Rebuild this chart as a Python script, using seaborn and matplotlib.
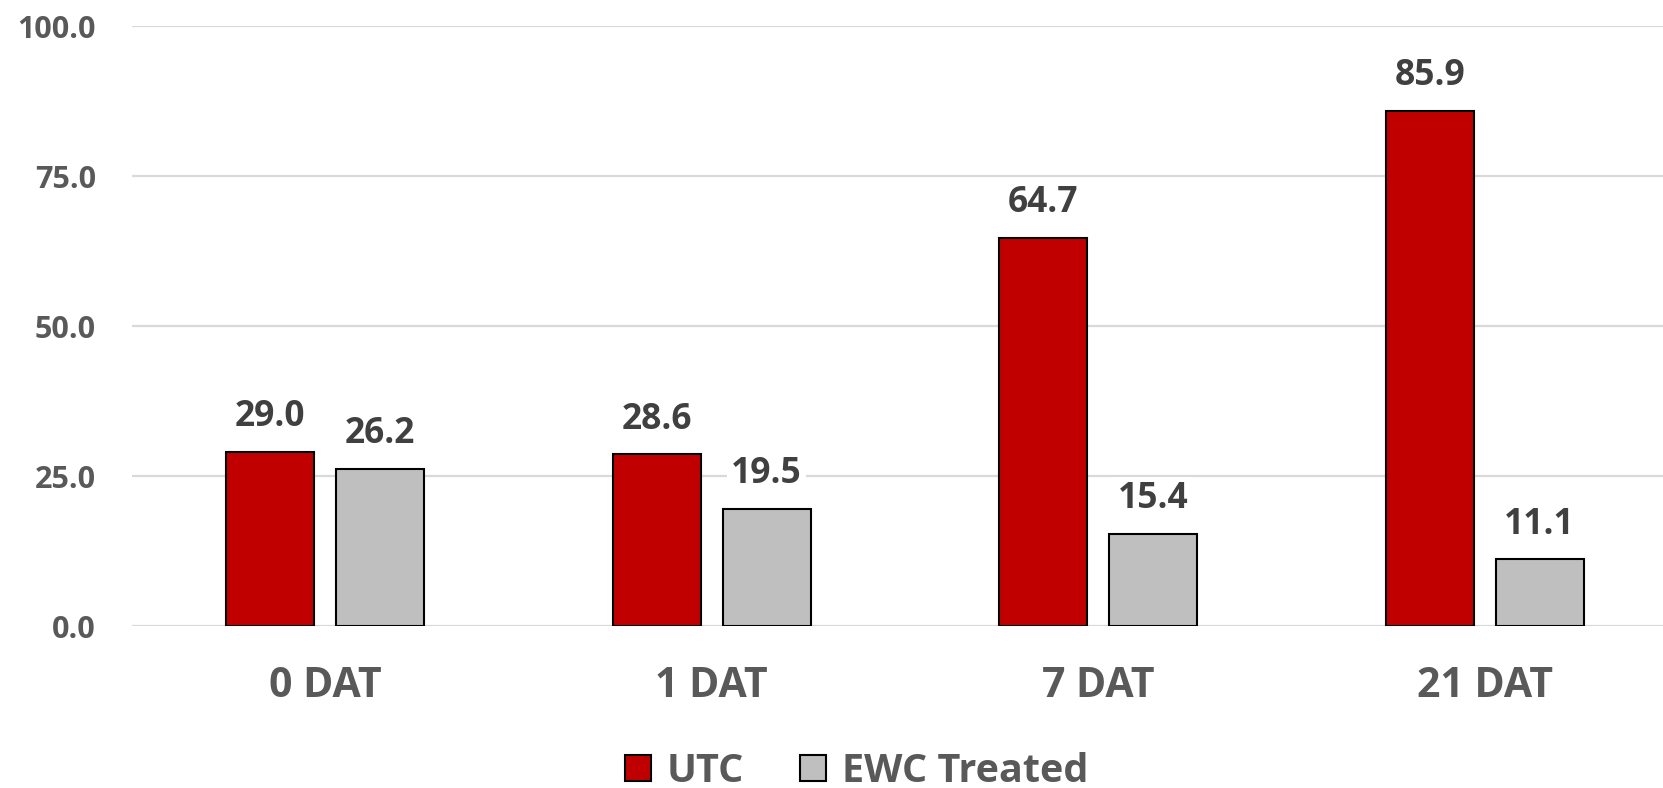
import matplotlib
matplotlib.use("Agg")
import matplotlib.pyplot as plt
import seaborn as sns
import pandas as pd
from matplotlib.patches import Patch

categories = ["0 DAT", "1 DAT", "7 DAT", "21 DAT"]
series_names = ["UTC", "EWC Treated"]
utc_values = [29.0, 28.6, 64.7, 85.9]
ewc_values = [26.2, 19.5, 15.4, 11.1]
y_ticks = [0, 25, 50, 75, 100]

colors = {"UTC": "#C00000", "EWC Treated": "#BFBFBF"}

df = pd.DataFrame({
    "period": categories * 2,
    "series": [series_names[0]] * len(categories) + [series_names[1]] * len(categories),
    "value": utc_values + ewc_values,
})

sns.set_theme(style="white")
plt.rcParams["font.family"] = ["Open Sans", "DejaVu Sans"]
plt.rcParams["font.weight"] = "bold"

W, H = 1663, 788
fig = plt.figure(figsize=(W / 100, H / 100), dpi=100)
left, bottom, top = 132 / W, 162 / H, (H - 26) / H
ax = fig.add_axes([left, bottom, 1 - left, top - bottom])

sns.barplot(data=df, x="period", y="value", hue="series", order=categories,
            hue_order=series_names, palette=colors, saturation=1,
            width=0.569, gap=0.2, edgecolor="black", linewidth=1.5,
            legend=False, ax=ax, errorbar=None)

ax.set_ylim(0, 100)
ax.set_xlim(-0.5, 3.5 - 15 / 386.5)
ax.set_yticks(y_ticks)
ax.set_yticklabels([f"{t:.1f}" for t in y_ticks])
ax.yaxis.grid(True, color="#D9D9D9", linewidth=1.6)
ax.set_axisbelow(True)
for s in ax.spines.values():
    s.set_visible(False)
ax.set_xlabel("")
ax.set_ylabel("")
ax.tick_params(axis="y", length=0, pad=26, labelsize=22, labelcolor="#595959")
ax.tick_params(axis="x", length=0, pad=29, labelsize=29.5, labelcolor="#595959")
for lab in ax.get_xticklabels() + ax.get_yticklabels():
    lab.set_fontweight("bold")

for cont in ax.containers:
    ax.bar_label(cont, fmt="%.1f", padding=12, fontsize=25.5, fontweight="bold",
                 color="#404040",
                 bbox=dict(facecolor="white", edgecolor="none", pad=3))

handles = [Patch(facecolor=colors[n], edgecolor="black", linewidth=1.5, label=n)
           for n in series_names]
fig.legend(handles=handles, loc="center", bbox_to_anchor=(0.515, 0.021),
           ncol=2, frameon=False, handlelength=0.66, handleheight=0.66,
           handletextpad=0.4, columnspacing=1.4, labelcolor="#595959",
           prop={"family": ["Open Sans", "DejaVu Sans"], "weight": "bold", "size": 28.5})

fig.savefig("out.png", dpi=100)
